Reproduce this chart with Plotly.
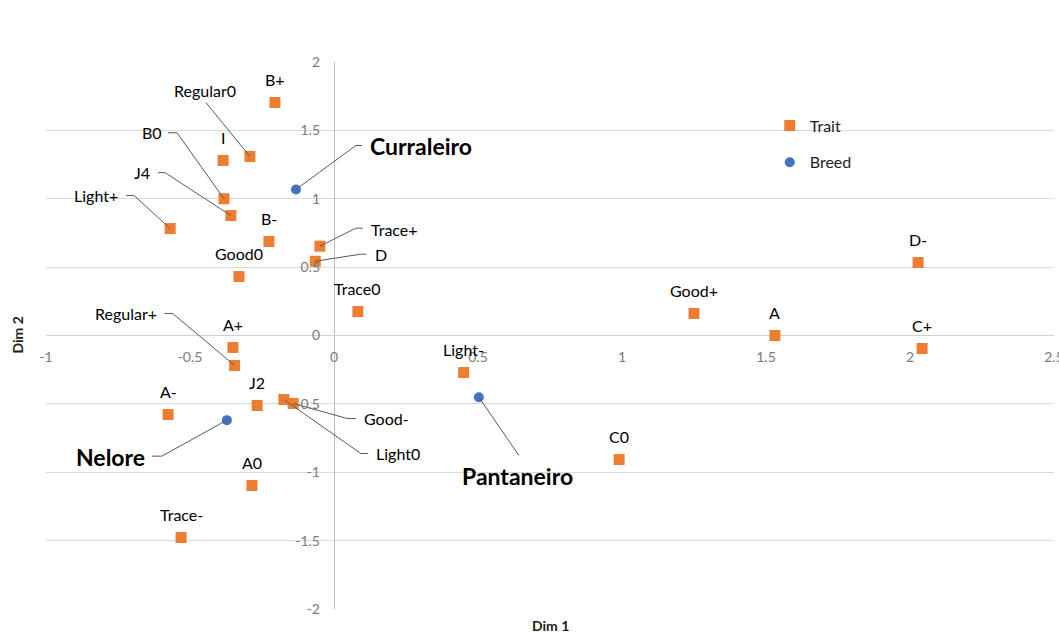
import plotly.graph_objects as go

# ---------------- data ----------------
trait_labels = ["B+", "Regular0", "I", "B0", "J4", "Light+", "B-", "Trace+", "D", "Good0",
                "Trace0", "A+", "Regular+", "A-", "J2", "Light0", "Good-", "A0", "Trace-",
                "Light-", "Good+", "A", "C0", "D-", "C+"]
trait_x = [-0.205, -0.292, -0.385, -0.382, -0.358, -0.569, -0.226, -0.049, -0.065, -0.330,
           0.083, -0.351, -0.345, -0.576, -0.267, -0.174, -0.142, -0.285, -0.531,
           0.450, 1.250, 1.531, 0.990, 2.028, 2.042]
trait_y = [1.704, 1.309, 1.280, 1.000, 0.877, 0.782, 0.687, 0.653, 0.543, 0.431,
           0.175, -0.088, -0.219, -0.578, -0.512, -0.468, -0.497, -1.097, -1.477,
           -0.271, 0.161, 0.000, -0.907, 0.534, -0.095]

breed_labels = ["Curraleiro", "Nelore", "Pantaneiro"]
breed_x = [-0.132, -0.372, 0.503]
breed_y = [1.068, -0.619, -0.452]

x_range = [-1, 2.5]
y_range = [-2, 2]
x_ticks = [-1, -0.5, 0, 0.5, 1, 1.5, 2, 2.5]
y_ticks = [-2, -1.5, -1, -0.5, 0, 0.5, 1, 1.5, 2]

# ---------------- styling ----------------
W, H = 1059, 633
M = dict(l=46, r=5, t=62, b=24)
plot_w = W - M["l"] - M["r"]
plot_h = H - M["t"] - M["b"]
px_x = plot_w / (x_range[1] - x_range[0])
px_y = plot_h / (y_range[1] - y_range[0])

ORANGE = "#ED7D31"
BLUE = "#4472C4"
FONT = "Lato, Open Sans, sans-serif"

# label placement in screen pixels relative to the point (dy positive = down)
label_pos = {
    "Regular0": dict(dx=-45, dy=-66, anchor="center", line=[(-44, -54)]),
    "B0": dict(dx=-60, dy=-66, anchor="right", line=[(-47, -66), (-56, -66)]),
    "J4": dict(dx=-79, dy=-43, anchor="right", line=[(-66, -43), (-73, -43)]),
    "Light+": dict(dx=-50, dy=-33, anchor="right", line=[(-36, -33), (-44, -33)]),
    "Trace+": dict(dx=49, dy=-17, anchor="left", line=[(36, -18), (43, -18)]),
    "D": dict(dx=58, dy=-7, anchor="left", line=[(45, -7), (51, -7)]),
    "Regular+": dict(dx=-76, dy=-52, anchor="right", line=[(-62, -52), (-70, -52)]),
    "Good-": dict(dx=69, dy=15, anchor="left", line=[(54, 15), (63, 15)]),
    "Light0": dict(dx=90, dy=54, anchor="left", line=[(77, 54), (84, 54)]),
    "Curraleiro": dict(dx=72, dy=-43, anchor="left", line=[(60, -44), (66, -44)]),
    "Nelore": dict(dx=-80, dy=37, anchor="right", line=[(-65, 36), (-75, 36)]),
    "Pantaneiro": dict(dx=39, dy=79, anchor="center", line=[(40, 58)]),
}
default_pos = dict(dx=0, dy=-23, anchor="center", line=None)

fig = go.Figure()
fig.add_trace(go.Scatter(
    x=trait_x, y=trait_y, mode="markers", name="Trait", legendgroup="trait",
    marker=dict(symbol="square", size=11, color=ORANGE, line=dict(width=0)),
    hovertext=trait_labels, hoverinfo="text"))
fig.add_trace(go.Scatter(
    x=breed_x, y=breed_y, mode="markers", name="Breed", legendgroup="breed",
    marker=dict(symbol="circle", size=10, color=BLUE, line=dict(width=0)),
    hovertext=breed_labels, hoverinfo="text"))

# leader lines and labels
lx, ly = [], []
annotations = []
points = [(l, x, y, False) for l, x, y in zip(trait_labels, trait_x, trait_y)] + \
         [(l, x, y, True) for l, x, y in zip(breed_labels, breed_x, breed_y)]
for lab, x, y, bold in points:
    p = label_pos.get(lab, default_pos)
    if p["line"]:
        lx.append(x); ly.append(y)
        for (ddx, ddy) in p["line"]:
            lx.append(x + ddx / px_x); ly.append(y - ddy / px_y)
        lx.append(None); ly.append(None)
    annotations.append(dict(
        x=x, y=y, xref="x", yref="y", text=f"<b>{lab}</b>" if bold else lab,
        showarrow=False, xanchor=p["anchor"], yanchor="middle",
        xshift=p["dx"], yshift=-p["dy"],
        font=dict(family=FONT, size=23 if bold else 16, color="#000000")))

fig.add_trace(go.Scatter(x=lx, y=ly, mode="lines", showlegend=False, hoverinfo="skip",
                         line=dict(color="#595959", width=1)))

# axis titles
annotations.append(dict(x=0.5, y=-16 / plot_h, xref="paper", yref="paper",
                        text="<b>Dim 1</b>", showarrow=False, yanchor="middle",
                        font=dict(family=FONT, size=14, color="#222222")))
annotations.append(dict(x=-29 / plot_w, y=0.5, xref="paper", yref="paper",
                        text="<b>Dim 2</b>", showarrow=False, textangle=-90,
                        xanchor="center", yanchor="middle",
                        font=dict(family=FONT, size=14, color="#222222")))

x0_frac = (0 - x_range[0]) / (x_range[1] - x_range[0])
y0_frac = (0 - y_range[0]) / (y_range[1] - y_range[0])

fig.update_layout(
    width=W, height=H, margin=M,
    paper_bgcolor="white", plot_bgcolor="white",
    showlegend=True,
    legend=dict(x=0.718, y=0.915, xanchor="left", yanchor="top",
                traceorder="grouped", tracegroupgap=13,
                font=dict(family=FONT, size=16, color="#222222"),
                bgcolor="rgba(0,0,0,0)"),
    xaxis=dict(range=x_range, tickvals=x_ticks, ticktext=[f"{v:g}" for v in x_ticks],
               showgrid=False, zeroline=True, zerolinecolor="#bfbfbf", zerolinewidth=1,
               showline=False, ticks="", anchor="free", position=y0_frac,
               ticklabelstandoff=11, automargin=False, ticklabeloverflow="allow",
               tickfont=dict(family=FONT, size=14, color="#7a7a7a")),
    yaxis=dict(range=y_range, tickvals=y_ticks, ticktext=[f"{v:g}" for v in y_ticks],
               showgrid=True, gridcolor="#d9d9d9", gridwidth=1,
               zeroline=True, zerolinecolor="#d0d0d0", zerolinewidth=1,
               showline=False, ticks="", anchor="free", position=x0_frac,
               ticklabelstandoff=14, automargin=False, ticklabeloverflow="allow",
               tickfont=dict(family=FONT, size=14, color="#7a7a7a")),
    annotations=annotations,
)

fig.write_html("out.html", config={"displayModeBar": False},
               post_script="document.body.style.margin='0';document.body.style.overflow='hidden';")
